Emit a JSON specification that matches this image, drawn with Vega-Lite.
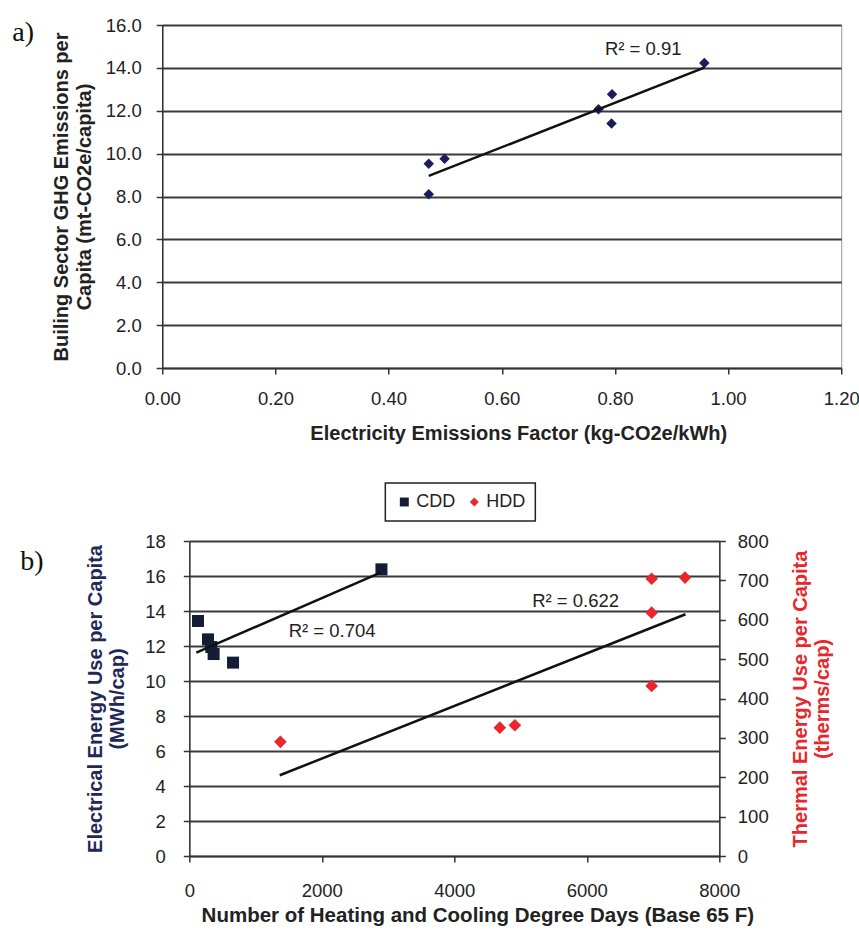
{
  "$schema": "https://vega.github.io/schema/vega-lite/v6.json",
  "background": "white",
  "padding": {"left": 11, "top": 15, "right": 0, "bottom": 0},
  "center": true,
  "spacing": 37,
  "resolve": {"scale": {"color": "independent", "shape": "independent"}, "legend": {"color": "independent", "shape": "independent"}},
  "datasets": {
    "top_pts": [
      {"ef": 0.471, "ghg": 9.53},
      {"ef": 0.499, "ghg": 9.76},
      {"ef": 0.471, "ghg": 8.10},
      {"ef": 0.771, "ghg": 12.07},
      {"ef": 0.795, "ghg": 12.77},
      {"ef": 0.794, "ghg": 11.40},
      {"ef": 0.958, "ghg": 14.23}
    ],
    "top_trend": [
      {"ef": 0.471, "ghg": 8.96},
      {"ef": 0.958, "ghg": 14.01}
    ],
    "top_r2": [
      {"ef": 0.850, "ghg": 14.88, "label": "R² = 0.91"}
    ],
    "cdd": [
      {"dd": 131, "elec": 13.43, "series": "CDD"},
      {"dd": 282, "elec": 12.38, "series": "CDD"},
      {"dd": 332, "elec": 11.94, "series": "CDD"},
      {"dd": 367, "elec": 11.54, "series": "CDD"},
      {"dd": 660, "elec": 11.05, "series": "CDD"},
      {"dd": 2900, "elec": 16.38, "series": "CDD"}
    ],
    "cdd_trend": [
      {"dd": 106, "elec": 11.62},
      {"dd": 2885, "elec": 16.19}
    ],
    "cdd_r2": [
      {"dd": 2155, "elec": 12.87, "label": "R² = 0.704"}
    ],
    "hdd": [
      {"dd": 1375, "therm": 290, "series": "HDD"},
      {"dd": 4687, "therm": 326, "series": "HDD"},
      {"dd": 4914, "therm": 332, "series": "HDD"},
      {"dd": 6979, "therm": 704, "series": "HDD"},
      {"dd": 6979, "therm": 618, "series": "HDD"},
      {"dd": 6979, "therm": 432, "series": "HDD"},
      {"dd": 7482, "therm": 707, "series": "HDD"}
    ],
    "hdd_trend": [
      {"dd": 1365, "therm": 205},
      {"dd": 7490, "therm": 614}
    ],
    "hdd_r2": [
      {"dd": 5831, "therm": 648, "label": "R² = 0.622"}
    ]
  },
  "vconcat": [
    {
      "width": 679,
      "height": 343,
      "title": {"text": "a)", "anchor": "start", "frame": "group", "dx": -150, "offset": -31, "baseline": "top", "font": "Liberation Serif", "fontSize": 28, "fontWeight": "normal", "color": "#111111"},
      "encoding": {
        "x": {"field": "ef", "type": "quantitative", "scale": {"domain": [0, 1.2], "nice": false, "zero": false},
          "axis": {"values": [0, 0.2, 0.4, 0.6, 0.8, 1.0, 1.2], "format": ".2f", "grid": false, "title": "Electricity Emissions Factor (kg-CO2e/kWh)", "labelPadding": 15, "titlePadding": 16, "titleX": 356, "titleAlign": "center"}},
        "y": {"field": "ghg", "type": "quantitative", "scale": {"domain": [0, 16], "nice": false},
          "axis": {"values": [0, 2, 4, 6, 8, 10, 12, 14, 16], "format": ".1f", "grid": true, "title": ["Builing Sector GHG Emissions per", "Capita (mt-CO2e/capita)"], "titlePadding": 11, "titleLineHeight": 23, "labelPadding": 15}}
      },
      "layer": [
        {"data": {"name": "top_pts"}, "mark": {"type": "point", "shape": "diamond", "filled": true, "size": 110, "color": "#1a1d5a", "opacity": 1}},
        {"data": {"name": "top_trend"}, "mark": {"type": "line", "color": "#111111", "strokeWidth": 2.5}, "encoding": {}},
        {"data": {"name": "top_r2"}, "mark": {"type": "text", "fontSize": 18.5, "color": "#222222", "font": "Liberation Sans"}, "encoding": {"text": {"field": "label"}}}
      ]
    },
    {
      "width": 530,
      "height": 315,
      "title": {"text": "b)", "anchor": "start", "frame": "group", "dx": -169, "offset": -94, "baseline": "top", "font": "Liberation Serif", "fontSize": 28, "fontWeight": "normal", "color": "#111111"},
      "resolve": {"scale": {"y": "independent"}},
      "layer": [
        {
          "encoding": {
            "x": {"field": "dd", "type": "quantitative", "scale": {"domain": [0, 8000], "nice": false},
              "axis": {"values": [0, 2000, 4000, 6000, 8000], "format": "d", "grid": false, "title": "Number of Heating and Cooling Degree Days (Base 65 F)", "titleFontSize": 20.5, "labelPadding": 19, "titlePadding": 6, "titleX": 288, "titleAlign": "center"}},
            "y": {"field": "elec", "type": "quantitative", "scale": {"domain": [0, 18], "nice": false},
              "axis": {"orient": "left", "values": [0, 2, 4, 6, 8, 10, 12, 14, 16, 18], "grid": true, "title": ["Electrical Energy Use per Capita", "(MWh/cap)"], "titleColor": "#1f2857", "titlePadding": 17, "titleLineHeight": 22, "labelPadding": 18}}
          },
          "layer": [
            {"data": {"name": "cdd"}, "mark": {"type": "point", "shape": "square", "filled": true, "size": 144, "opacity": 1},
              "encoding": {
                "color": {"field": "series", "type": "nominal", "scale": {"domain": ["CDD", "HDD"], "range": ["#141c38", "#e8262b"]},
                  "legend": {"title": null, "orient": "none", "legendX": 196, "legendY": -58, "direction": "horizontal"}},
                "shape": {"field": "series", "type": "nominal", "scale": {"domain": ["CDD", "HDD"], "range": ["square", "diamond"]},
                  "legend": {"title": null, "orient": "none", "legendX": 196, "legendY": -58, "direction": "horizontal"}}
              }},
            {"data": {"name": "cdd_trend"}, "mark": {"type": "line", "color": "#111111", "strokeWidth": 2.5}, "encoding": {}},
            {"data": {"name": "cdd_r2"}, "mark": {"type": "text", "fontSize": 18.5, "color": "#222222", "font": "Liberation Sans"}, "encoding": {"text": {"field": "label"}}}
          ]
        },
        {
          "encoding": {
            "x": {"field": "dd", "type": "quantitative", "scale": {"domain": [0, 8000], "nice": false},
              "axis": {"values": [0, 2000, 4000, 6000, 8000], "format": "d", "grid": false, "title": "Number of Heating and Cooling Degree Days (Base 65 F)", "titleFontSize": 20.5, "labelPadding": 19, "titlePadding": 6, "titleX": 288, "titleAlign": "center"}},
            "y": {"field": "therm", "type": "quantitative", "scale": {"domain": [0, 800], "nice": false},
              "axis": {"orient": "right", "values": [0, 100, 200, 300, 400, 500, 600, 700, 800], "grid": false, "title": ["Thermal Energy Use per Capita", "(therms/cap)"], "titleColor": "#e8262b", "titleAngle": 270, "titleBaseline": "top", "titlePadding": 0, "titleLineHeight": 22, "labelPadding": 12}}
          },
          "layer": [
            {"data": {"name": "hdd"}, "mark": {"type": "point", "shape": "diamond", "filled": true, "size": 160, "opacity": 1},
              "encoding": {
                "color": {"field": "series", "type": "nominal", "scale": {"domain": ["CDD", "HDD"], "range": ["#141c38", "#e8262b"]},
                  "legend": {"title": null, "orient": "none", "legendX": 196, "legendY": -58, "direction": "horizontal"}},
                "shape": {"field": "series", "type": "nominal", "scale": {"domain": ["CDD", "HDD"], "range": ["square", "diamond"]},
                  "legend": {"title": null, "orient": "none", "legendX": 196, "legendY": -58, "direction": "horizontal"}}
              }},
            {"data": {"name": "hdd_trend"}, "mark": {"type": "line", "color": "#111111", "strokeWidth": 2.5}, "encoding": {}},
            {"data": {"name": "hdd_r2"}, "mark": {"type": "text", "fontSize": 18.5, "color": "#222222", "font": "Liberation Sans"}, "encoding": {"text": {"field": "label"}}}
          ]
        }
      ]
    }
  ],
  "config": {
    "font": "Liberation Sans",
    "view": {"stroke": "#9a9a9a", "strokeWidth": 1},
    "axis": {
      "labelFont": "Liberation Sans", "labelFontSize": 18.5, "labelColor": "#222222",
      "labelFlush": false, "labelOverlap": false,
      "titleFont": "Liberation Sans", "titleFontSize": 20, "titleFontWeight": "bold", "titleColor": "#222222",
      "domainColor": "#333333", "domainWidth": 1.5,
      "tickColor": "#333333", "tickWidth": 1.5, "tickSize": 6,
      "gridColor": "#3a3a3a", "gridWidth": 2, "gridOpacity": 1
    },
    "legend": {
      "labelFont": "Liberation Sans", "labelFontSize": 18, "labelColor": "#222222",
      "strokeColor": "#222222", "strokeWidth": 1.5, "fillColor": "white",
      "padding": 10, "symbolSize": 80, "columnPadding": 10, "labelOffset": 3,
      "symbolStrokeWidth": 0
    }
  }
}
